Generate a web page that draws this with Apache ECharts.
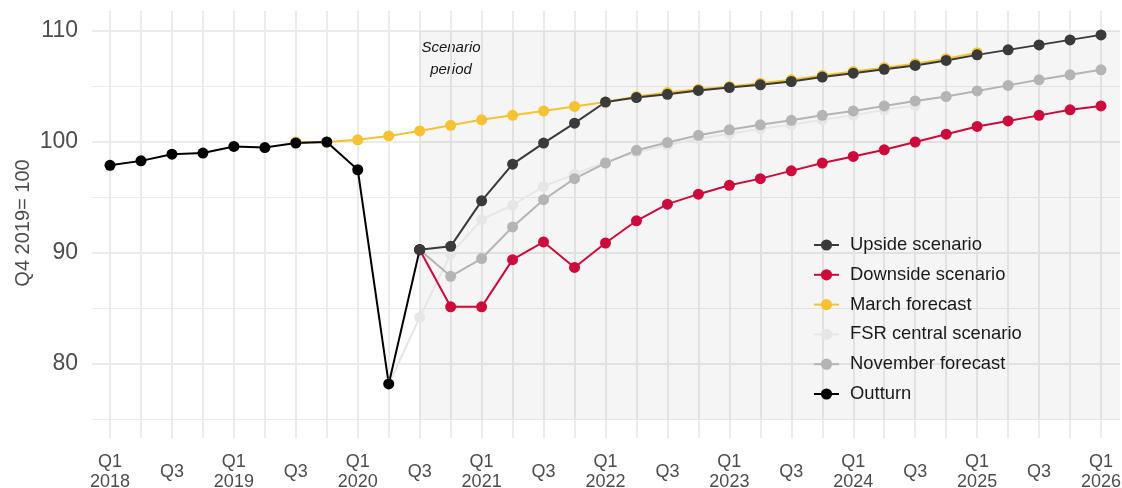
<!DOCTYPE html>
<html>
<head>
<meta charset="utf-8">
<script src="https://cdn.jsdelivr.net/npm/echarts@6/dist/echarts.min.js"></script>
<style>
html,body{margin:0;padding:0;background:#fff;}
#chart{width:1122px;height:488px;}
</style>
</head>
<body>
<div id="chart"></div>
<script>
// ---- data ----
const quarters = ["2018 Q1","2018 Q2","2018 Q3","2018 Q4","2019 Q1","2019 Q2","2019 Q3","2019 Q4",
  "2020 Q1","2020 Q2","2020 Q3","2020 Q4","2021 Q1","2021 Q2","2021 Q3","2021 Q4",
  "2022 Q1","2022 Q2","2022 Q3","2022 Q4","2023 Q1","2023 Q2","2023 Q3","2023 Q4",
  "2024 Q1","2024 Q2","2024 Q3","2024 Q4","2025 Q1","2025 Q2","2025 Q3","2025 Q4","2026 Q1"];
const tickLabels = ["Q1\n2018","","Q3","","Q1\n2019","","Q3","","Q1\n2020","","Q3","",
  "Q1\n2021","","Q3","","Q1\n2022","","Q3","","Q1\n2023","","Q3","","Q1\n2024","","Q3","",
  "Q1\n2025","","Q3","","Q1\n2026"];
const yTickLabels = [80, 90, 100, 110];

const outturn = [97.9, 98.3, 98.9, 99.0, 99.6, 99.5, 99.9, 100.0, 97.5, 78.2, 90.3,
  null, null, null, null, null, null, null, null, null, null, null, null, null, null, null, null, null, null, null, null, null, null];
const march = [null, null, null, null, null, null, 100.0, 100.0, 100.2, 100.55, 101.0,
  101.5, 102.0, 102.4, 102.8, 103.2, 103.6, 104.1, 104.45, 104.75, 105.0, 105.3, 105.6, 106.0,
  106.35, 106.7, 107.05, 107.5, 108.05, null, null, null, null];
const upside = [null, null, null, null, null, null, null, null, null, null, 90.3,
  90.6, 94.7, 98.0, 99.9, 101.7, 103.6, 104.0, 104.3, 104.65, 104.9, 105.15, 105.45, 105.85,
  106.2, 106.55, 106.9, 107.35, 107.85, 108.3, 108.75, 109.2, 109.65];
const downside = [null, null, null, null, null, null, null, null, null, null, 90.3,
  85.15, 85.15, 89.4, 91.0, 88.7, 90.9, 92.9, 94.4, 95.3, 96.1, 96.7, 97.4, 98.1,
  98.7, 99.3, 100.0, 100.7, 101.4, 101.9, 102.4, 102.9, 103.25];
const november = [null, null, null, null, null, null, null, null, null, null, 90.3,
  87.9, 89.5, 92.35, 94.8, 96.7, 98.1, 99.25, 99.95, 100.6, 101.1, 101.55, 101.95, 102.4,
  102.8, 103.25, 103.7, 104.1, 104.6, 105.1, 105.6, 106.05, 106.5];
const fsrCentral = [null, null, null, null, null, null, null, null, null, 78.2, 84.2,
  89.9, 93.0, 94.3, 96.0, 97.1, 98.2, 99.1, 99.7, 100.3, 100.75, 101.2, 101.55, 102.0,
  102.4, 102.9, 103.3, null, null, null, null, null, null];

const scenarioStartIndex = 10;   // Q3 2020
const scenarioBand = [75, 110];

// ---- layout ----
const W = 1122, H = 488;
const panelL = 92, panelR = 1120;     // panel extent (horizontal gridlines)
const panelT = 11, panelB = 438;      // panel extent (vertical gridlines)
const firstX = 110, lastX = 1101;     // first / last quarter position
const pxPerQ = (lastX - firstX) / (quarters.length - 1);
const xMin = -(firstX - panelL) / pxPerQ;
const xMax = (quarters.length - 1) + (panelR - lastX) / pxPerQ;
const y100 = 142, pxPerUnit = 11.1;
const yMinV = 70;
const yMaxV = 100 + (y100 - panelT) / pxPerUnit;
const gTop = panelT;
const gBottom = H - (y100 + (100 - yMinV) * pxPerUnit);

const FONT = "'Liberation Sans', Arial, sans-serif";
const toPairs = arr => arr.map((v, i) => [i, v]).filter(p => p[1] !== null);

const colors = {
  upside: '#3a3a3a', downside: '#cc0a3c', march: '#f4c232',
  fsr: '#e6e6e6', november: '#b4b4b4', outturn: '#000000'
};

function lineSeries(name, arr, color, extra) {
  return Object.assign({
    name: name, type: 'line', xAxisIndex: 0, yAxisIndex: 0,
    data: toPairs(arr), symbol: 'circle', symbolSize: 11,
    lineStyle: { color: color, width: 2 }, itemStyle: { color: color },
    emphasis: { disabled: true }, animation: false
  }, extra || {});
}

const chart = echarts.init(document.getElementById('chart'), null, { renderer: 'canvas' });
chart.setOption({
  backgroundColor: '#ffffff',
  animation: false,
  grid: [
    { left: panelL, right: W - panelR, top: gTop, bottom: gBottom, outerBoundsMode: 'none', containLabel: false },
    { left: firstX, right: W - lastX, top: panelT, bottom: H - panelB, outerBoundsMode: 'none', containLabel: false }
  ],
  xAxis: [
    { type: 'value', gridIndex: 0, min: xMin, max: xMax, show: false },
    { type: 'category', gridIndex: 1, data: tickLabels, boundaryGap: false,
      axisLine: { show: false }, axisTick: { show: false },
      axisLabel: { interval: 0, color: '#4d4d4d', fontSize: 18, fontFamily: FONT, lineHeight: 20,
        margin: 34, verticalAlign: 'middle' },
      splitLine: { show: true, interval: 0, lineStyle: { color: '#ebebeb', width: 2 } } }
  ],
  yAxis: [
    { type: 'value', gridIndex: 0, min: yMinV, max: yMaxV, interval: 10,
      axisLine: { show: false }, axisTick: { show: false },
      axisLabel: { color: '#4d4d4d', fontSize: 23, fontFamily: FONT, margin: 14,
        showMinLabel: false, showMaxLabel: false,
        formatter: v => yTickLabels.indexOf(v) >= 0 ? String(v) : '' },
      splitLine: { show: true, showMinLine: false, showMaxLine: false, lineStyle: { color: '#ebebeb', width: 2 } } },
    { type: 'value', gridIndex: 1, show: false, min: 0, max: 1 },
    { type: 'value', gridIndex: 0, min: yMinV, max: yMaxV, interval: 5, position: 'left',
      axisLine: { show: false }, axisTick: { show: false }, axisLabel: { show: false },
      splitLine: { show: true, showMinLine: false, showMaxLine: false, lineStyle: { color: '#ebebeb', width: 1 } } }
  ],
  legend: {
    orient: 'vertical', left: 808, top: 231,
    itemWidth: 25, itemHeight: 14, itemGap: 11.8,
    data: ['Upside scenario', 'Downside scenario', 'March forecast', 'FSR central scenario', 'November forecast', 'Outturn'],
    textStyle: { color: '#1a1a1a', fontSize: 18.4, fontFamily: FONT, lineHeight: 18, padding: [0, 0, 0, 6] },
    selectedMode: false
  },
  graphic: [
    { type: 'text', x: 451, y: 59, silent: true,
      style: { text: 'Scenario\nperiod', font: 'italic 15px ' + FONT, fill: '#1a1a1a',
        align: 'center', verticalAlign: 'middle', lineHeight: 22 } },
    { type: 'text', x: 23, y: 223, rotation: Math.PI / 2, silent: true,
      style: { text: 'Q4 2019= 100', font: '20px ' + FONT, fill: '#4d4d4d',
        align: 'center', verticalAlign: 'middle' } }
  ],
  series: [
    lineSeries('FSR central scenario', fsrCentral, colors.fsr, {
      markArea: { silent: true, itemStyle: { color: 'rgba(0,0,0,0.04)' },
        data: [[{ xAxis: scenarioStartIndex, yAxis: scenarioBand[0] }, { xAxis: xMax, yAxis: scenarioBand[1] }]] }
    }),
    lineSeries('November forecast', november, colors.november),
    lineSeries('March forecast', march, colors.march),
    lineSeries('Downside scenario', downside, colors.downside),
    lineSeries('Outturn', outturn, colors.outturn),
    lineSeries('Upside scenario', upside, colors.upside)
  ]
});
</script>
</body>
</html>
